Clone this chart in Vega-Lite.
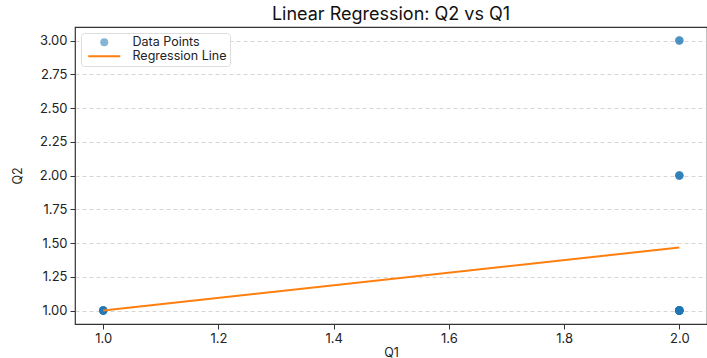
{
  "$schema": "https://vega.github.io/schema/vega-lite/v6.json",
  "width": 632,
  "height": 297,
  "autosize": "none",
  "padding": {"left": 75, "top": 27, "right": 0, "bottom": 34},
  "background": "white",
  "config": {
    "font": "Inter",
    "view": {"stroke": "#333333", "strokeWidth": 1.2},
    "axis": {
      "labelFont": "Inter",
      "titleFont": "Inter",
      "labelFontSize": 13,
      "titleFontSize": 12.5,
      "labelColor": "#222222",
      "titleColor": "#222222",
      "titleFontWeight": "normal",
      "tickColor": "#333333",
      "tickSize": 5,
      "labelPadding": 3,
      "domain": false
    }
  },
  "title": {
    "text": "Linear Regression: Q2 vs Q1",
    "font": "Inter",
    "fontSize": 18,
    "fontWeight": "normal",
    "color": "#111111",
    "anchor": "middle",
    "offset": 3
  },
  "datasets": {
    "points": [
      {"Q1": 1, "Q2": 1, "series": "Data Points"},
      {"Q1": 1, "Q2": 1, "series": "Data Points"},
      {"Q1": 1, "Q2": 1, "series": "Data Points"},
      {"Q1": 1, "Q2": 1, "series": "Data Points"},
      {"Q1": 1, "Q2": 1, "series": "Data Points"},
      {"Q1": 2, "Q2": 1, "series": "Data Points"},
      {"Q1": 2, "Q2": 1, "series": "Data Points"},
      {"Q1": 2, "Q2": 1, "series": "Data Points"},
      {"Q1": 2, "Q2": 1, "series": "Data Points"},
      {"Q1": 2, "Q2": 1, "series": "Data Points"},
      {"Q1": 2, "Q2": 1, "series": "Data Points"},
      {"Q1": 2, "Q2": 1, "series": "Data Points"},
      {"Q1": 2, "Q2": 1, "series": "Data Points"},
      {"Q1": 2, "Q2": 1, "series": "Data Points"},
      {"Q1": 2, "Q2": 1, "series": "Data Points"},
      {"Q1": 2, "Q2": 2, "series": "Data Points"},
      {"Q1": 2, "Q2": 2, "series": "Data Points"},
      {"Q1": 2, "Q2": 2, "series": "Data Points"},
      {"Q1": 2, "Q2": 3, "series": "Data Points"},
      {"Q1": 2, "Q2": 3, "series": "Data Points"}
    ],
    "fit": [
      {"Q1": 1, "Q2": 1.0, "series": "Regression Line"},
      {"Q1": 2, "Q2": 1.4667, "series": "Regression Line"}
    ]
  },
  "encoding": {
    "x": {
      "field": "Q1",
      "type": "quantitative",
      "title": "Q1",
      "scale": {"domain": [0.951, 2.048], "nice": false, "zero": false},
      "axis": {"values": [1.0, 1.2, 1.4, 1.6, 1.8, 2.0], "format": ".1f", "grid": false, "titlePadding": 1}
    },
    "y": {
      "field": "Q2",
      "type": "quantitative",
      "title": "Q2",
      "scale": {"domain": [0.9, 3.1], "nice": false, "zero": false},
      "axis": {
        "values": [1.0, 1.25, 1.5, 1.75, 2.0, 2.25, 2.5, 2.75, 3.0],
        "format": ".2f",
        "grid": true,
        "gridColor": "#cccccc",
        "gridDash": [4, 3],
        "gridWidth": 0.8,
        "titlePadding": 15
      }
    },
    "color": {
      "field": "series",
      "type": "nominal",
      "scale": {"domain": ["Data Points", "Regression Line"], "range": ["#1f77b4", "#ff7f0e"]},
      "legend": {
        "title": null,
        "orient": "top-left",
        "offset": 6,
        "padding": 3,
        "rowPadding": 1,
        "fillColor": "white",
        "strokeColor": "#dddddd",
        "cornerRadius": 3,
        "labelFont": "Inter",
        "labelFontSize": 12.5,
        "labelColor": "#222222",
        "symbolSize": 64,
        "symbolOffset": 14,
        "labelOffset": 22,
        "encode": {
          "symbols": {
            "update": {
              "shape": {"signal": "datum.value === 'Regression Line' ? 'M-4,0H4' : 'circle'"},
              "fill": {"signal": "datum.value === 'Regression Line' ? 'transparent' : '#1f77b4'"},
              "fillOpacity": {"value": 0.55},
              "stroke": {"signal": "datum.value === 'Regression Line' ? '#ff7f0e' : 'transparent'"},
              "strokeWidth": {"signal": "datum.value === 'Regression Line' ? 2 : 0"},
              "opacity": {"value": 1}
            }
          }
        }
      }
    }
  },
  "layer": [
    {
      "data": {"name": "points"},
      "mark": {"type": "point", "shape": "circle", "filled": true, "size": 70, "opacity": 0.55}
    },
    {
      "data": {"name": "fit"},
      "mark": {"type": "line", "strokeWidth": 2}
    }
  ]
}
